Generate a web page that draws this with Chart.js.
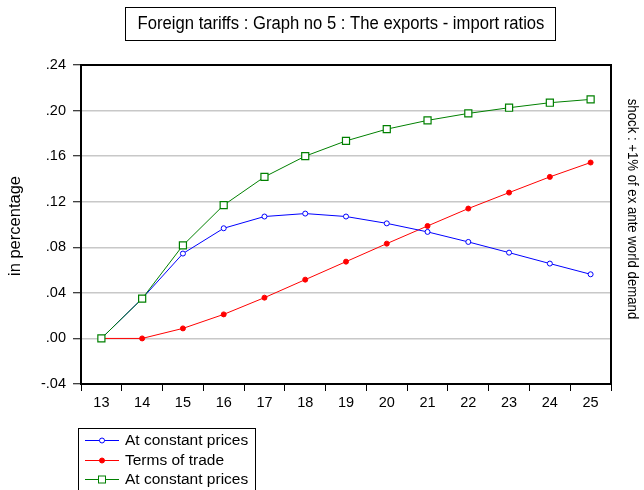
<!DOCTYPE html>
<html>
<head>
<meta charset="utf-8">
<script src="https://cdn.jsdelivr.net/npm/chart.js@4.4.1/dist/chart.umd.min.js"></script>
<style>
  html, body { margin: 0; padding: 0; background: #fff; }
  #wrap { width: 644px; height: 490px; position: relative; }
</style>
</head>
<body>
<div id="wrap"><canvas id="c" width="644" height="490"></canvas></div>
<script>
const categories = ['13','14','15','16','17','18','19','20','21','22','23','24','25'];
const constantPricesA = [0, 0.035, 0.0745, 0.0967, 0.107, 0.1096, 0.107, 0.101, 0.0935, 0.0847, 0.0753, 0.0657, 0.0563];
const termsOfTrade    = [0, 0, 0.0088, 0.0211, 0.0358, 0.0516, 0.0674, 0.0832, 0.0987, 0.114, 0.128, 0.1418, 0.1544];
const constantPricesB = [0, 0.0349, 0.0817, 0.117, 0.1418, 0.160, 0.1734, 0.1837, 0.1914, 0.1975, 0.2025, 0.2069, 0.2098];
const seriesLabels = ['At constant prices', 'Terms of trade', 'At constant prices'];
const titleText = 'Foreign tariffs : Graph no 5 : The exports - import ratios';
const leftTitle = 'in percentage';
const rightTitle = 'shock : +1% of ex ante world demand';

const FONT = 'Liberation Sans, Arial, sans-serif';

function fmt(v) {
  if (Math.abs(v) < 1e-9) v = 0;
  let s = Number(v).toFixed(2);
  s = s.replace(/^(-?)0\./, '$1.');
  return s;
}

function drawMarker(ctx, kind, color, x, y) {
  ctx.save();
  ctx.lineWidth = 1;
  ctx.strokeStyle = color;
  if (kind === 'openCircle') {
    ctx.fillStyle = '#fff';
    ctx.beginPath(); ctx.arc(x, y, 2.5, 0, Math.PI * 2); ctx.fill(); ctx.stroke();
  } else if (kind === 'dot') {
    ctx.fillStyle = color;
    ctx.beginPath(); ctx.arc(x, y, 2.5, 0, Math.PI * 2); ctx.fill(); ctx.stroke();
  } else {
    ctx.fillStyle = '#fff';
    ctx.fillRect(x - 3.5, y - 3.5, 7, 7);
    ctx.strokeRect(x - 3.5, y - 3.5, 7, 7);
  }
  ctx.restore();
}

const decor = {
  id: 'decor',
  afterDraw(chart) {
    const ctx = chart.ctx;
    const a = chart.chartArea;
    ctx.save();
    // plot frame
    ctx.strokeStyle = '#000';
    ctx.lineWidth = 2;
    ctx.strokeRect(a.left, a.top, a.right - a.left, a.bottom - a.top);

    // title box
    ctx.lineWidth = 1;
    ctx.strokeRect(125.5, 7.5, 430, 33);
    ctx.fillStyle = '#000';
    ctx.textAlign = 'center';
    ctx.textBaseline = 'middle';
    ctx.save();
    ctx.translate(341, 24);
    ctx.scale(0.925, 1);
    ctx.font = '18px ' + FONT;
    ctx.fillText(titleText, 0, 0);
    ctx.restore();

    // left title
    ctx.save();
    ctx.translate(15, 226);
    ctx.rotate(-Math.PI / 2);
    ctx.font = '16.5px ' + FONT;
    ctx.fillText(leftTitle, 0, 0);
    ctx.restore();

    // right title
    ctx.save();
    ctx.translate(632, 209);
    ctx.rotate(Math.PI / 2);
    ctx.scale(0.88, 1);
    ctx.font = '15px ' + FONT;
    ctx.fillText(rightTitle, 0, 0);
    ctx.restore();

    // legend
    ctx.strokeStyle = '#000';
    ctx.lineWidth = 1;
    ctx.strokeRect(78.5, 428.5, 177, 62);
    const ys = [440, 460, 479];
    const kinds = ['openCircle', 'dot', 'square'];
    chart.data.datasets.forEach((ds, i) => {
      const y = ys[i];
      ctx.strokeStyle = ds.borderColor;
      ctx.lineWidth = 1;
      ctx.beginPath(); ctx.moveTo(85, y + 0.5); ctx.lineTo(119, y + 0.5); ctx.stroke();
      drawMarker(ctx, kinds[i], ds.borderColor, 102, y + 0.5);
      ctx.fillStyle = '#000';
      ctx.font = '15.5px ' + FONT;
      ctx.textAlign = 'left';
      ctx.textBaseline = 'middle';
      ctx.fillText(ds.label, 125, y + 1);
    });
    ctx.restore();
  }
};

new Chart(document.getElementById('c'), {
  type: 'line',
  data: {
    labels: categories,
    datasets: [
      {
        label: seriesLabels[0], data: constantPricesA,
        borderColor: '#0000ff', backgroundColor: '#ffffff', borderWidth: 1,
        pointStyle: 'circle', pointRadius: 2.5, pointBorderWidth: 1,
        pointBackgroundColor: '#ffffff', pointBorderColor: '#0000ff',
        tension: 0, order: 1
      },
      {
        label: seriesLabels[1], data: termsOfTrade,
        borderColor: '#ff0000', backgroundColor: '#ff0000', borderWidth: 1,
        pointStyle: 'circle', pointRadius: 2.5, pointBorderWidth: 1,
        pointBackgroundColor: '#ff0000', pointBorderColor: '#ff0000',
        tension: 0, order: 2
      },
      {
        label: seriesLabels[2], data: constantPricesB,
        borderColor: '#008000', backgroundColor: '#ffffff', borderWidth: 1,
        pointStyle: 'rect', pointRadius: 5, pointBorderWidth: 1.2,
        pointBackgroundColor: '#ffffff', pointBorderColor: '#008000',
        tension: 0, order: 0
      }
    ]
  },
  options: {
    responsive: false,
    animation: false,
    devicePixelRatio: 1,
    layout: { padding: { top: 65, right: 33, left: 0, bottom: 0 }, autoPadding: false },
    plugins: { legend: { display: false }, title: { display: false }, tooltip: { enabled: false } },
    scales: {
      x: {
        type: 'category',
        offset: true,
        afterFit(scale) { scale.height = 106; },
        grid: { offset: true, drawOnChartArea: false, drawTicks: true, tickLength: 7, tickColor: '#000', tickWidth: 1 },
        border: { display: false },
        ticks: { color: '#000', font: { family: FONT, size: 14.5 }, padding: 3, maxRotation: 0 }
      },
      y: {
        min: -0.04, max: 0.24,
        afterFit(scale) { scale.width = 81; },
        grid: {
          color: (c) => (c.index === 0 || c.index === 7) ? 'rgba(0,0,0,0)' : '#c8c8c8',
          lineWidth: 1.5,
          tickLength: 8, tickColor: '#000', tickWidth: 1
        },
        border: { display: false },
        ticks: {
          stepSize: 0.04, color: '#000', font: { family: FONT, size: 14.5 }, padding: 7,
          callback: (v) => fmt(v)
        }
      }
    }
  },
  plugins: [decor]
});
</script>
</body>
</html>
